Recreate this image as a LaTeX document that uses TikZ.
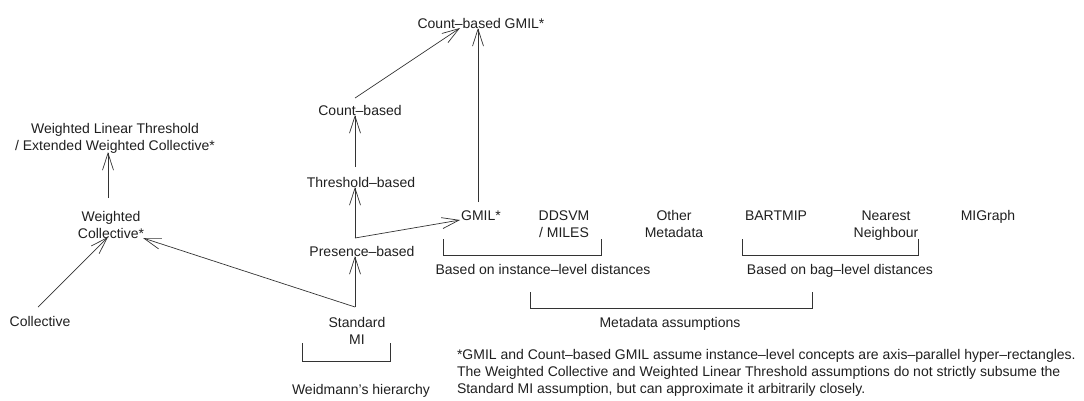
\documentclass[tikz,border=0pt]{standalone}
\usepackage{fontspec}
\setmainfont{Liberation Sans}
\usetikzlibrary{arrows.meta,calc}
\begin{document}
\begin{tikzpicture}[x=1pt,y=-1pt,
  every node/.style={inner sep=0pt, outer sep=0pt, anchor=base, align=center,
    text=black!88, font=\fontsize{14}{17}\selectfont},
  link/.style={draw=black!80, line width=0.7pt, -{Straight Barb[length=17pt,width=11pt]}},
  brk/.style={draw=black!80, line width=0.7pt}]
\useasboundingbox (0,0) rectangle (1084,400);
% nodes (base = baseline of the last line)
\node (cgmil) at (481,28) {Count–based GMIL*};
\node (count) at (360,115) {Count–based};
\node (thresh) at (361,187) {Threshold–based};
\node (presence) at (362,256) {Presence–based};
\node (standard) at (357,344) {Standard\\MI};
\node (wlt) at (115,150) {Weighted Linear Threshold\\/ Extended Weighted Collective*};
\node (wc) at (111,238) {Weighted\\Collective*};
\node (coll) at (40,326) {Collective};
\node (gmil) at (481,220) {GMIL*};
\node (ddsvm) at (564,237) {DDSVM\\/ MILES};
\node (other) at (674,237) {Other\\Metadata};
\node (bartmip) at (776,220) {BARTMIP};
\node (nn) at (886,237) {Nearest\\Neighbour};
\node (migraph) at (988,220) {MIGraph};
\node (inst) at (543,274) {Based on instance–level distances};
\node (bag) at (840,274) {Based on bag–level distances};
\node (meta) at (670,327) {Metadata assumptions};
\node (weid) at (361,394) {Weidmann’s hierarchy};
\node[anchor=base west, align=left] (foot) at (457,393)
  {*GMIL and Count–based GMIL assume instance–level concepts are axis–parallel hyper–rectangles.\\
   The Weighted Collective and Weighted Linear Threshold assumptions do not strictly subsume the\\
   Standard MI assumption, but can approximate it arbitrarily closely.};
% connectors
\draw[link] ($(count.base)+(-5,-17)$) -- ($(cgmil.base)+(-21,0)$);
\draw[link] ($(gmil.base)+(-3,-18)$) -- ($(cgmil.base)+(-3,0)$);
\draw[link] ($(thresh.base)+(-6,-20)$) -- ($(count.base)+(-5,0)$);
\draw[link] ($(presence.base)+(-7,-18)$) -- ($(thresh.base)+(-6,0)$);
\draw[link] ($(presence.base)+(-7,-18)$) -- ($(gmil.base)+(-21,0)$);
\draw[link] ($(standard.base)+(-2,-37)$) -- ($(presence.base)+(-7,0)$);
\draw[link] ($(standard.base)+(-2,-37)$) -- ($(wc.base)+(32,0)$);
\draw[link] ($(coll.base)+(-2,-19)$) -- ($(wc.base)+(-3,-1)$);
\draw[link] ($(wc.base)+(-3,-40)$) -- ($(wlt.base)+(-7,2)$);
% brackets
\draw[brk] (302,343) -- (302,361) -- (390,361) -- (390,343);
\draw[brk] (443,239) -- (443,255) -- (601,255) -- (601,239);
\draw[brk] (742,239) -- (742,255) -- (918,255) -- (918,239);
\draw[brk] (530,292) -- (530,308) -- (812,308) -- (812,292);
\end{tikzpicture}
\end{document}
